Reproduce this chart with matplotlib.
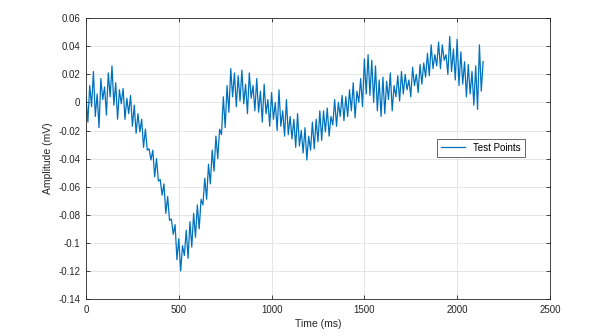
import numpy as np
import matplotlib
matplotlib.use("Agg")
import matplotlib.pyplot as plt

# sample times (ms), one reading every 10 ms
time_ms = np.arange(0, 2150, 10)

# measured amplitude (mV), grouped per 100 ms
amplitude_mv = [
    0.004, -0.014, 0.012, -0.003, 0.022, -0.010, 0.006, -0.018, 0.017, 0.002,
    0.011, -0.009, 0.021, 0.004, 0.026, -0.002, 0.014, -0.012, 0.009, -0.001,
    0.010, -0.012, 0.003, -0.008, 0.005, -0.017, -0.002, -0.022, -0.008, -0.021,
    -0.012, -0.032, -0.019, -0.034, -0.033, -0.041, -0.034, -0.053, -0.040, -0.056,
    -0.055, -0.066, -0.058, -0.079, -0.067, -0.084, -0.083, -0.094, -0.087, -0.112,
    -0.097, -0.120, -0.102, -0.109, -0.091, -0.111, -0.085, -0.103, -0.079, -0.096,
    -0.073, -0.090, -0.069, -0.073, -0.054, -0.069, -0.044, -0.058, -0.034, -0.049,
    -0.024, -0.040, -0.019, -0.023, 0.004, -0.018, 0.012, -0.007, 0.024, 0.004,
    0.021, -0.003, 0.019, 0.001, 0.023, -0.001, 0.013, -0.008, 0.021, 0.003,
    0.012, -0.006, 0.017, -0.007, 0.008, -0.014, 0.013, -0.008, 0.002, -0.017,
    0.007, -0.012, 0.000, -0.020, 0.009, -0.017, -0.006, -0.024, 0.002, -0.023,
    -0.010, -0.026, -0.012, -0.032, -0.008, -0.031, -0.020, -0.036, -0.018, -0.041,
    -0.024, -0.034, -0.014, -0.033, -0.012, -0.028, -0.006, -0.027, -0.006, -0.021,
    -0.004, -0.024, -0.010, -0.016, 0.002, -0.017, 0.000, -0.010, 0.005, -0.013,
    0.004, -0.010, 0.009, -0.006, 0.014, -0.011, 0.008, 0.000, 0.017, -0.003,
    0.031, 0.006, 0.034, 0.005, 0.030, 0.000, 0.026, -0.006, 0.016, -0.010,
    0.018, -0.008, 0.015, 0.002, 0.021, -0.006, 0.012, 0.004, 0.019, 0.001,
    0.022, 0.006, 0.020, 0.009, 0.016, 0.004, 0.025, 0.012, 0.020, 0.007,
    0.027, 0.013, 0.028, 0.018, 0.035, 0.019, 0.041, 0.024, 0.034, 0.026,
    0.043, 0.024, 0.041, 0.030, 0.034, 0.020, 0.047, 0.022, 0.038, 0.016,
    0.045, 0.012, 0.036, 0.013, 0.029, 0.004, 0.027, 0.006, 0.022, -0.002,
    0.026, -0.005, 0.041, 0.008, 0.029,
]

x_ticks = [0, 500, 1000, 1500, 2000, 2500]
y_ticks = [-0.14, -0.12, -0.1, -0.08, -0.06, -0.04, -0.02, 0, 0.02, 0.04, 0.06]
y_tick_labels = ["-0.14", "-0.12", "-0.1", "-0.08", "-0.06", "-0.04",
                 "-0.02", "0", "0.02", "0.04", "0.06"]

plt.rcParams["font.family"] = ["Liberation Sans", "DejaVu Sans"]

fig = plt.figure(figsize=(5.94, 3.36), dpi=100)
ax = fig.add_axes([0.1448, 0.110, 0.781, 0.836])

ax.plot(time_ms, amplitude_mv, color="#0072BD", linewidth=0.9, label="Test Points")

ax.set_xlim(0, 2500)
ax.set_ylim(-0.14, 0.06)
ax.set_xticks(x_ticks)
ax.set_xticklabels([str(t) for t in x_ticks])
ax.set_yticks(y_ticks)
ax.set_yticklabels(y_tick_labels)

ax.grid(True, color="#e2e2e2", linewidth=0.6)
ax.set_axisbelow(True)
ax.tick_params(direction="in", top=True, right=True, length=3, width=0.6,
               labelsize=7, colors="#262626", pad=4)
for side in ax.spines.values():
    side.set_color("#262626")
    side.set_linewidth(0.6)

ax.set_xlabel("Time (ms)", fontsize=7.5, color="#262626", labelpad=3)
ax.set_ylabel("Amplitude (mV)", fontsize=7.5, color="#262626", labelpad=4)

leg = ax.legend(loc="center", bbox_to_anchor=(0.851, 0.539), fontsize=7,
                fancybox=False, framealpha=1, edgecolor="#4d4d4d",
                handlelength=2.5, borderpad=0.4)
leg.get_frame().set_linewidth(0.6)

fig.savefig("out.png", dpi=100)
